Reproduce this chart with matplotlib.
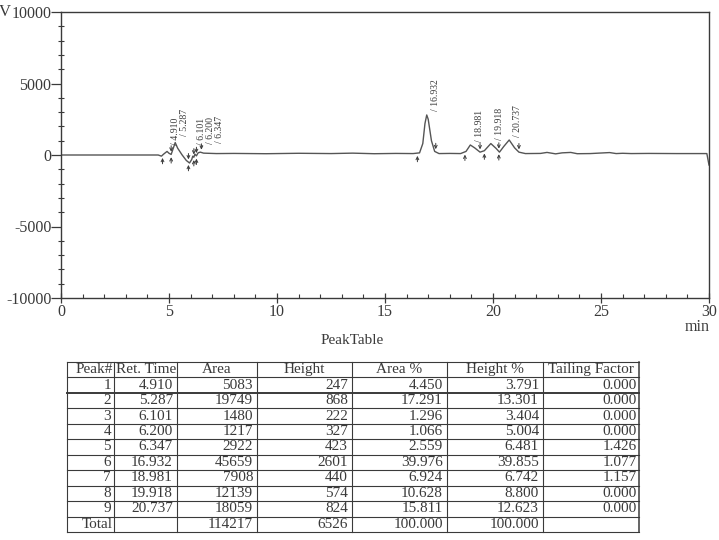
import numpy as np
import matplotlib
matplotlib.use('Agg')
import matplotlib.pyplot as plt
from matplotlib.patches import Rectangle

plt.rcParams['font.family'] = ['Liberation Serif', 'DejaVu Serif']
plt.rcParams['axes.unicode_minus'] = False

# chromatogram trace (min, signal)
trace_t = [0.0, 4.5, 4.65, 4.75, 4.85, 4.91, 5.0, 5.1, 5.2, 5.287, 5.4, 5.6, 5.8, 5.95,
           6.05, 6.101, 6.15, 6.2, 6.27, 6.347, 6.45, 6.6, 7.2, 8.0, 9.5, 11.0, 12.5,
           13.5, 14.5, 15.5, 16.3, 16.6, 16.75, 16.85, 16.932, 17.0, 17.15, 17.3, 17.5,
           18.0, 18.5, 18.75, 18.95, 19.15, 19.4, 19.6, 19.9, 20.15, 20.3, 20.5, 20.75,
           21.0, 21.2, 21.5, 22.2, 22.5, 22.9, 23.2, 23.6, 23.9, 24.5, 25.4, 25.7, 26.0,
           26.4, 27.2, 28.5, 29.9, 30.0]
trace_v = [0, 0, -80, 60, 180, 250, 120, 40, 480, 870, 480, 20, -380, -560,
           -320, -80, -160, 60, -60, 150, 200, 130, 100, 110, 90, 120, 100,
           130, 90, 110, 100, 150, 800, 2200, 2800, 2500, 1000, 250, 100,
           110, 100, 250, 700, 500, 200, 300, 800, 450, 200, 600, 1050,
           500, 200, 100, 110, 180, 80, 150, 180, 90, 100, 170, 100, 120,
           100, 110, 100, 100, -700]

peak_no = [1, 2, 3, 4, 5, 6, 7, 8, 9]
ret_time = [4.910, 5.287, 6.101, 6.200, 6.347, 16.932, 18.981, 19.918, 20.737]
area = [5083, 19749, 1480, 1217, 2922, 45659, 7908, 12139, 18059]
height = [247, 868, 222, 327, 423, 2601, 440, 574, 824]
area_pct = [4.450, 17.291, 1.296, 1.066, 2.559, 39.976, 6.924, 10.628, 15.811]
height_pct = [3.791, 13.301, 3.404, 5.004, 6.481, 39.855, 6.742, 8.800, 12.623]
tailing = [0.000, 0.000, 0.000, 0.000, 1.426, 1.077, 1.157, 0.000, 0.000]
total_area = 114217
total_height = 6526
total_area_pct = 100.000
total_height_pct = 100.000

# integration start / end marks (min)
peak_start = [4.7, 5.1, 5.9, 6.15, 6.27, 16.5, 18.7, 19.6, 20.27]
peak_end = [5.1, 5.9, 6.15, 6.27, 6.5, 17.35, 19.4, 20.27, 21.2]

ink = '#3a3a3a'
fig = plt.figure(figsize=(7.19, 5.40), dpi=100)
ax = fig.add_axes([61 / 719, 1 - 298 / 540, 648 / 719, 286 / 540])

ax.plot(trace_t, trace_v, color='#555555', lw=1.0)
ax.set_xlim(0, 30)
ax.set_ylim(-10000, 10000)
ax.set_xticks(np.arange(0, 31, 5))
ax.set_xticks(np.arange(0, 31, 1), minor=True)
ax.set_yticks([-10000, -5000, 0, 5000, 10000])
ax.set_yticks(np.arange(-10000, 10001, 1000), minor=True)
ax.tick_params(axis='x', which='major', direction='inout', length=7, width=0.9,
               colors=ink, labelsize=11.5, pad=1)
ax.tick_params(axis='x', which='minor', direction='in', length=3, width=0.8, colors=ink)
ax.tick_params(axis='y', which='major', direction='out', length=7, width=0.9,
               colors=ink, labelsize=11.5, pad=0)
ax.tick_params(axis='y', which='minor', direction='inout', length=4, width=0.8, colors=ink)
for s in ax.spines.values():
    s.set_color(ink)
    s.set_linewidth(1.0)

# peak labels (spread a little where they crowd) and integration marks
prev_x = -1
for rt, h in zip(ret_time, height):
    lx = max(rt + 0.4, prev_x + 0.42)
    prev_x = lx
    ax.text(lx, h + 450, '/ %.3f' % rt, rotation=90, ha='center', va='bottom',
            fontsize=7, color=ink)
for t in peak_start:
    b = np.interp(t, trace_t, trace_v)
    ax.annotate('', xy=(t, b), xytext=(t, b - 800),
                arrowprops=dict(arrowstyle='->', lw=0.7, color=ink, mutation_scale=5))
for t in peak_end:
    b = np.interp(t, trace_t, trace_v)
    ax.annotate('', xy=(t, b), xytext=(t, b + 800),
                arrowprops=dict(arrowstyle='->', lw=0.7, color=ink, mutation_scale=5))

fig.text(-1 / 719, 1 - 12 / 540, 'V', fontsize=12, ha='left', va='center', color=ink)
fig.text(697 / 719, 1 - 327 / 540, 'min', fontsize=11.5, ha='center', va='center', color=ink)
fig.text(352 / 719, 1 - 340 / 540, 'PeakTable', fontsize=11, ha='center', va='center', color=ink)

# peak table drawn in pixel coordinates
tb = fig.add_axes([0, 0, 1, 1])
tb.set_xlim(0, 719)
tb.set_ylim(540, 0)
tb.axis('off')

col_x = [67, 114, 177, 257, 352, 447, 543, 639]
top, bottom = 362, 532
n_rows = 11
row_h = (bottom - top) / n_rows
for i in range(n_rows + 1):
    y = top + i * row_h
    tb.plot([col_x[0], col_x[-1]], [y, y], color=ink, lw=1.4 if i == 2 else 0.8)
for x in col_x:
    tb.plot([x, x], [top, bottom], color=ink, lw=1.1 if x == col_x[-1] else 0.8)

fs = 11
headers = ['Peak#', 'Ret. Time', 'Area', 'Height', 'Area %', 'Height %', 'Tailing Factor']
yc = top + row_h / 2
for j, hdr in enumerate(headers):
    if j == 0:
        tb.text(col_x[1] - 1, yc, hdr, ha='right', va='center', fontsize=fs, color=ink)
    elif j == 1:
        t = tb.text(col_x[1] + 2, yc, hdr, ha='left', va='center', fontsize=fs, color=ink)
        clip = Rectangle((col_x[1], top), col_x[2] - col_x[1] - 1, row_h,
                         transform=tb.transData)
        t.set_clip_path(clip)
    else:
        tb.text((col_x[j] + col_x[j + 1]) / 2, yc, hdr, ha='center', va='center',
                fontsize=fs, color=ink)

pad = 4
for i in range(len(peak_no)):
    yc = top + (i + 1.5) * row_h
    cells = [str(peak_no[i]), '%.3f' % ret_time[i], str(area[i]), str(height[i]),
             '%.3f' % area_pct[i], '%.3f' % height_pct[i], '%.3f' % tailing[i]]
    for j, c in enumerate(cells):
        p = 3 if j == 0 else pad
        if j == 6:
            p = 2
        tb.text(col_x[j + 1] - p, yc, c, ha='right', va='center', fontsize=fs, color=ink)

yc = top + (n_rows - 0.5) * row_h
tb.text(col_x[1] - 1, yc, 'Total', ha='right', va='center', fontsize=fs, color=ink)
tb.text(col_x[3] - pad, yc, str(total_area), ha='right', va='center', fontsize=fs, color=ink)
tb.text(col_x[4] - pad, yc, str(total_height), ha='right', va='center', fontsize=fs, color=ink)
tb.text(col_x[5] - pad, yc, '%.3f' % total_area_pct, ha='right', va='center', fontsize=fs, color=ink)
tb.text(col_x[6] - pad, yc, '%.3f' % total_height_pct, ha='right', va='center', fontsize=fs, color=ink)

fig.savefig('out.png', dpi=100)
